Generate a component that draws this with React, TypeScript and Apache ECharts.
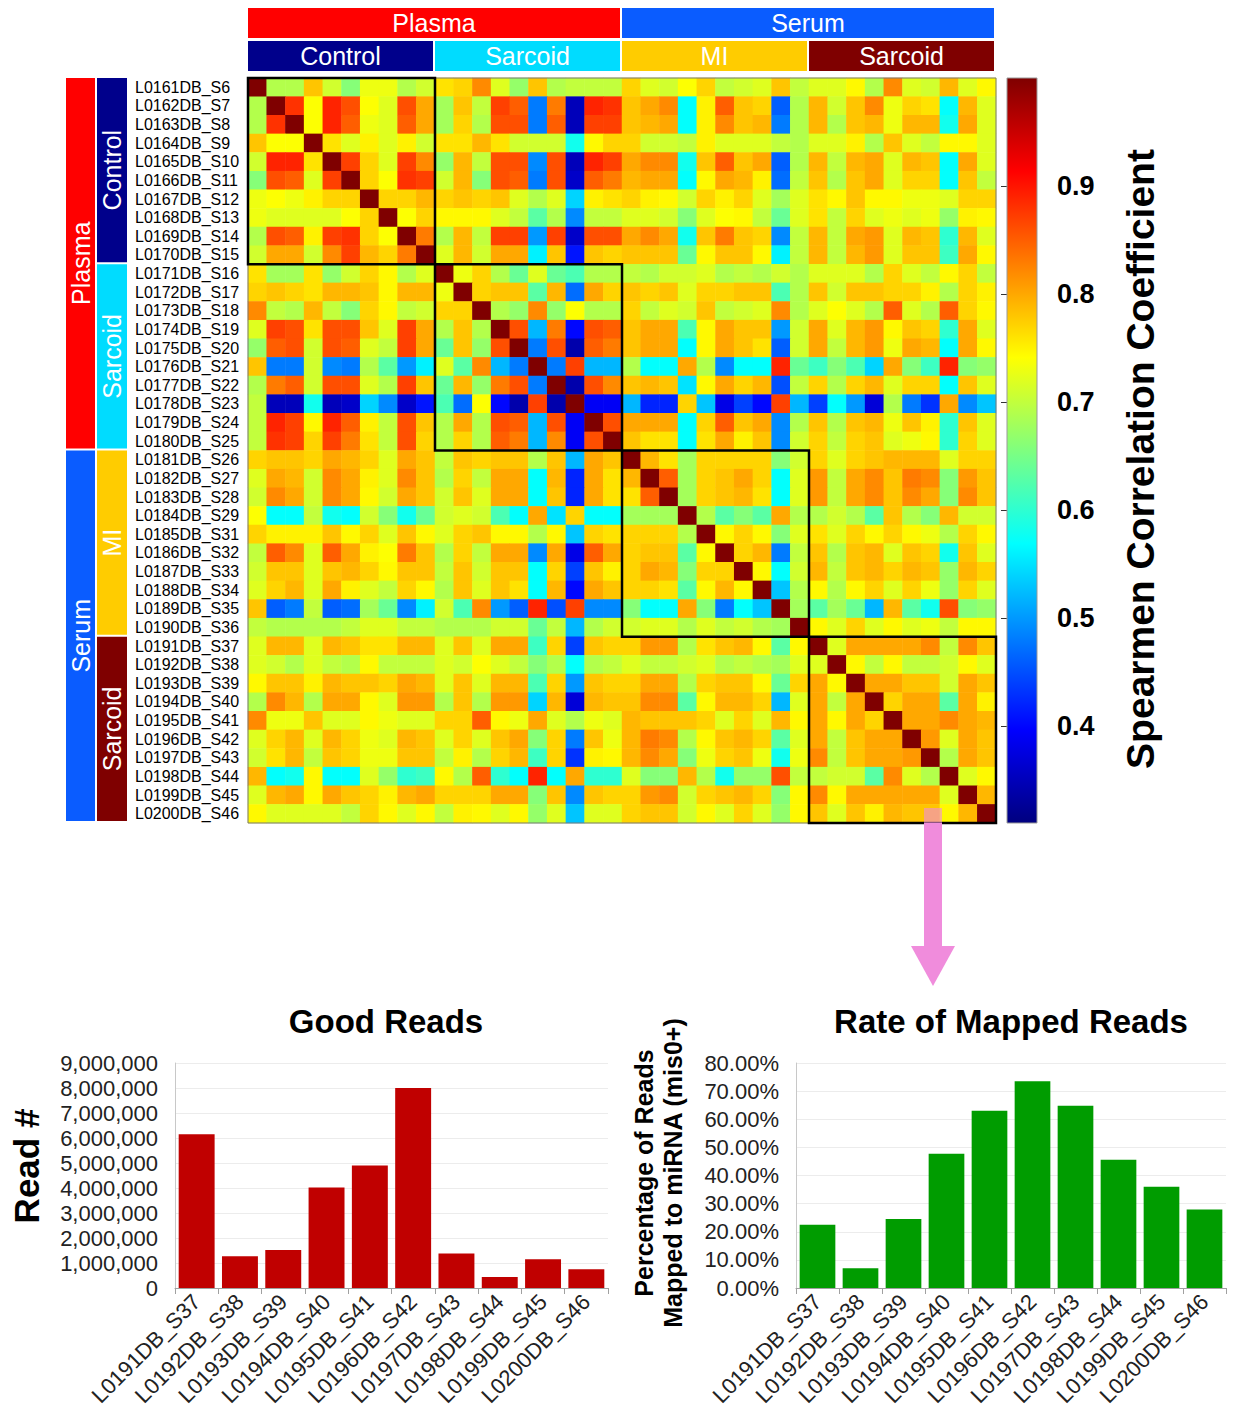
import React, { useEffect, useRef } from "react";
import * as echarts from "echarts";

// ---------- DATA ----------
const sampleLabels = [
  "L0161DB_S6","L0162DB_S7","L0163DB_S8","L0164DB_S9","L0165DB_S10","L0166DB_S11","L0167DB_S12","L0168DB_S13","L0169DB_S14","L0170DB_S15",
  "L0171DB_S16","L0172DB_S17","L0173DB_S18","L0174DB_S19","L0175DB_S20","L0176DB_S21","L0177DB_S22","L0178DB_S23","L0179DB_S24","L0180DB_S25",
  "L0181DB_S26","L0182DB_S27","L0183DB_S28","L0184DB_S29","L0185DB_S31","L0186DB_S32","L0187DB_S33","L0188DB_S34","L0189DB_S35","L0190DB_S36",
  "L0191DB_S37","L0192DB_S38","L0193DB_S39","L0194DB_S40","L0195DB_S41","L0196DB_S42","L0197DB_S43","L0198DB_S44","L0199DB_S45","L0200DB_S46",
];

// Upper triangle of the Spearman correlation matrix: row i holds columns i+1 .. 39
const corrUpper: number[][] = [
  [0.69,0.69,0.78,0.71,0.66,0.73,0.73,0.69,0.71,0.76,0.77,0.82, 0.72,0.67,0.78,0.69,0.70,0.70,0.70,0.77,0.72,0.71,0.74,0.77,0.70,0.71, 0.72,0.78,0.70,0.72,0.72,0.745,0.69,0.82,0.72,0.71,0.79,0.72,0.745],
  [0.88,0.74,0.89,0.86,0.74,0.72,0.86,0.80,0.68,0.78,0.70, 0.87,0.85,0.48,0.83,0.35,0.89,0.88,0.78,0.80,0.82,0.57,0.75,0.85,0.78, 0.77,0.46,0.69,0.79,0.71,0.78,0.82,0.73,0.77,0.76,0.57,0.79,0.72],
  [0.74,0.89,0.85,0.73,0.72,0.85,0.80,0.68,0.77,0.69, 0.86,0.86,0.48,0.85,0.35,0.87,0.87,0.78,0.79,0.80,0.57,0.75,0.82,0.78, 0.79,0.48,0.69,0.79,0.69,0.78,0.79,0.73,0.79,0.79,0.58,0.80,0.72],
  [0.76,0.72,0.75,0.72,0.75,0.71,0.76,0.76,0.79, 0.76,0.71,0.71,0.71,0.58,0.745,0.77,0.77,0.71,0.71,0.70,0.75,0.72,0.72, 0.72,0.70,0.69,0.72,0.72,0.75,0.69,0.78,0.72,0.70,0.745,0.745,0.72],
  [0.87,0.77,0.72,0.87,0.82,0.67,0.79,0.70, 0.86,0.86,0.49,0.86,0.35,0.89,0.87,0.80,0.82,0.82,0.58,0.78,0.85,0.78, 0.80,0.46,0.69,0.79,0.70,0.79,0.80,0.72,0.79,0.78,0.57,0.80,0.72],
  [0.77,0.74,0.88,0.87,0.71,0.79,0.66, 0.86,0.85,0.48,0.86,0.36,0.85,0.83,0.79,0.80,0.80,0.57,0.745,0.80,0.79, 0.75,0.47,0.70,0.78,0.69,0.78,0.80,0.72,0.77,0.77,0.57,0.78,0.70],
  [0.77,0.77,0.79,0.77,0.78,0.77, 0.78,0.72,0.69,0.72,0.54,0.75,0.76,0.77,0.75,0.745,0.71,0.77,0.75,0.77, 0.72,0.68,0.72,0.76,0.745,0.78,0.745,0.745,0.73,0.73,0.72,0.77,0.77],
  [0.74,0.77,0.745,0.745,0.745, 0.72,0.70,0.63,0.69,0.49,0.70,0.70,0.72,0.72,0.71,0.66,0.72,0.74,0.745, 0.70,0.64,0.72,0.76,0.70,0.77,0.72,0.73,0.72,0.73,0.67,0.75,0.745],
  [0.83,0.69,0.79,0.70, 0.87,0.87,0.50,0.87,0.36,0.86,0.86,0.80,0.82,0.80,0.58,0.78,0.83,0.78, 0.77,0.49,0.70,0.79,0.70,0.80,0.81,0.72,0.79,0.78,0.60,0.79,0.72],
  [0.72,0.79,0.71, 0.80,0.80,0.56,0.78,0.41,0.78,0.77,0.78,0.78,0.78,0.64,0.745,0.78,0.78, 0.745,0.56,0.70,0.79,0.70,0.79,0.81,0.72,0.78,0.78,0.61,0.80,0.745],
  [0.73,0.77, 0.69,0.64,0.72,0.64,0.62,0.69,0.69,0.70,0.69,0.71,0.71,0.72,0.69,0.70, 0.69,0.71,0.69,0.72,0.72,0.72,0.69,0.77,0.72,0.70,0.745,0.77,0.70],
  [0.77, 0.78,0.78,0.63,0.79,0.47,0.80,0.77,0.78,0.77,0.78,0.72,0.77,0.77,0.78, 0.78,0.62,0.69,0.78,0.71,0.78,0.78,0.77,0.77,0.75,0.69,0.77,0.75],
  [0.69,0.67,0.82,0.67,0.74,0.69,0.69,0.77,0.70,0.72,0.71,0.78,0.70,0.71, 0.72,0.82,0.69,0.72,0.74,0.72,0.69,0.85,0.72,0.69,0.85,0.77,0.745],
  [0.86,0.52,0.83,0.40,0.86,0.85,0.78,0.80,0.80,0.62,0.745,0.80,0.78, 0.78,0.50,0.71,0.80,0.72,0.79,0.81,0.745,0.78,0.77,0.60,0.80,0.72],
  [0.48,0.86,0.34,0.85,0.83,0.78,0.80,0.80,0.57,0.745,0.80,0.78, 0.76,0.46,0.71,0.80,0.70,0.79,0.81,0.73,0.80,0.79,0.57,0.80,0.745],
  [0.48,0.87,0.52,0.52,0.69,0.57,0.57,0.80,0.69,0.49,0.57, 0.57,0.89,0.64,0.61,0.66,0.62,0.54,0.80,0.66,0.61,0.89,0.66,0.67],
  [0.34,0.86,0.82,0.78,0.79,0.78,0.55,0.745,0.80,0.77, 0.79,0.45,0.70,0.77,0.69,0.77,0.79,0.72,0.77,0.77,0.57,0.78,0.72],
  [0.39,0.39,0.52,0.42,0.42,0.77,0.53,0.38,0.44, 0.40,0.87,0.52,0.44,0.57,0.50,0.37,0.69,0.48,0.43,0.80,0.49,0.53],
  [0.86,0.80,0.80,0.80,0.57,0.77,0.85,0.78, 0.80,0.49,0.69,0.78,0.69,0.78,0.79,0.73,0.78,0.75,0.60,0.78,0.72],
  [0.78,0.76,0.76,0.57,0.76,0.80,0.75, 0.78,0.49,0.71,0.77,0.70,0.77,0.78,0.72,0.73,0.745,0.60,0.77,0.72],
  [0.79,0.76,0.68,0.77,0.77,0.77, 0.77,0.66,0.71,0.77,0.72,0.77,0.78,0.79,0.79,0.79,0.72,0.77,0.77],
  [0.85,0.68,0.77,0.78,0.80, 0.77,0.57,0.72,0.81,0.70,0.80,0.82,0.78,0.83,0.82,0.66,0.81,0.78],
  [0.68,0.77,0.78,0.79, 0.76,0.57,0.72,0.81,0.70,0.80,0.82,0.78,0.82,0.80,0.66,0.82,0.78],
  [0.69,0.63,0.66, 0.63,0.80,0.69,0.69,0.71,0.69,0.63,0.78,0.69,0.66,0.79,0.71,0.71],
  [0.745,0.77, 0.745,0.66,0.72,0.76,0.72,0.77,0.745,0.77,0.745,0.73,0.69,0.77,0.745],
  [0.77, 0.79,0.48,0.70,0.78,0.69,0.78,0.79,0.72,0.78,0.77,0.58,0.78,0.72],
  [0.745,0.57,0.71,0.79,0.70,0.78,0.79,0.77,0.79,0.78,0.67,0.79,0.77],
  [0.53,0.69,0.745,0.69,0.745,0.77,0.72,0.77,0.73,0.67,0.77,0.72],
  [0.68,0.63,0.68,0.64,0.52,0.79,0.63,0.58,0.86,0.66,0.67],
  [0.745,0.72,0.77,0.72,0.745,0.72,0.73,0.70,0.745,0.745],
  [0.72,0.80,0.80,0.80,0.80,0.82,0.70,0.82,0.78],
  [0.745,0.70,0.745,0.70,0.70,0.71,0.745,0.72],
  [0.80,0.80,0.78,0.78,0.71,0.80,0.78],
  [0.77,0.80,0.80,0.63,0.80,0.75],
  [0.80,0.80,0.82,0.80,0.79],
  [0.81,0.72,0.80,0.78],
  [0.69,0.80,0.78],
  [0.72,0.745],
  [0.79],
];

const tissueGroups = ["Plasma", "Serum"];
const conditionGroups = ["Control", "Sarcoid", "MI", "Sarcoid"];
const colorbarTicks = [0.4, 0.5, 0.6, 0.7, 0.8, 0.9];
const corrMin = 0.31;
const corrMax = 1.0;

const barCategories = ["L0191DB_S37","L0192DB_S38","L0193DB_S39","L0194DB_S40","L0195DB_S41","L0196DB_S42","L0197DB_S43","L0198DB_S44","L0199DB_S45","L0200DB_S46"];
const goodReads = [6150000, 1270000, 1520000, 4020000, 4900000, 8000000, 1380000, 440000, 1150000, 750000];
const mappedRate = [22.5, 7.0, 24.5, 47.7, 63.0, 73.5, 64.8, 45.6, 36.0, 27.9];

// ---------- STYLE ----------
const FONT = '"Liberation Sans", Arial, Helvetica, sans-serif';
const jet = ["#00007f", "#0000ff", "#007fff", "#00ffff", "#7fff7f", "#ffff00", "#ff7f00", "#ff0000", "#7f0000"];
const tissueColors = ["#ff0000", "#0a5cff"];
const conditionColors = ["#00008b", "#00dcff", "#ffcc00", "#7f0000"];

const HM = { left: 248, top: 78, width: 748, height: 745 };

function txt(x: number, y: number, text: string, size: number, color: string, bold = false, rot = 0, z = 20) {
  return {
    type: "text",
    x,
    y,
    rotation: rot,
    z,
    silent: true,
    style: {
      text,
      fill: color,
      font: `${bold ? "bold " : ""}${size}px ${FONT}`,
      textAlign: "center",
      textVerticalAlign: "middle",
      align: "center",
      verticalAlign: "middle",
    },
  };
}

export default function App() {
  const ref = useRef<HTMLDivElement>(null);

  useEffect(() => {
    if (!ref.current) return;
    const chart = echarts.init(ref.current, null, { renderer: "svg" });
    const n = sampleLabels.length;

    // symmetric matrix from upper triangle
    const M: number[][] = [];
    for (let i = 0; i < n; i++) M.push(new Array(n).fill(1));
    for (let i = 0; i < n; i++) {
      const row = corrUpper[i] || [];
      for (let j = i + 1; j < n; j++) {
        const v = row[j - i - 1];
        if (v !== undefined) {
          M[i][j] = v;
          M[j][i] = v;
        }
      }
    }
    const heatData: number[][] = [];
    for (let i = 0; i < n; i++) for (let j = 0; j < n; j++) heatData.push([j, i, M[i][j]]);

    const cw = HM.width / n;
    const ch = HM.height / n;
    const graphic: any[] = [];

    // top header bars
    tissueGroups.forEach((g, k) => {
      const x = HM.left + k * 20 * cw;
      const w = 20 * cw - 2;
      graphic.push({ type: "rect", shape: { x, y: 8, width: w, height: 30 }, style: { fill: tissueColors[k] }, z: 10, silent: true });
      graphic.push(txt(x + w / 2, 23, g, 25, "#fff"));
    });
    conditionGroups.forEach((g, k) => {
      const x = HM.left + k * 10 * cw;
      const w = 10 * cw - 2;
      graphic.push({ type: "rect", shape: { x, y: 41, width: w, height: 30 }, style: { fill: conditionColors[k] }, z: 10, silent: true });
      graphic.push(txt(x + w / 2, 56, g, 25, "#fff"));
    });
    // left header bars
    tissueGroups.forEach((g, k) => {
      const y = HM.top + k * 20 * ch;
      const h = 20 * ch - 2;
      graphic.push({ type: "rect", shape: { x: 66, y, width: 29, height: h }, style: { fill: tissueColors[k] }, z: 10, silent: true });
      graphic.push(txt(81, y + h / 2, g, 25, "#fff", false, Math.PI / 2));
    });
    conditionGroups.forEach((g, k) => {
      const y = HM.top + k * 10 * ch;
      const h = 10 * ch - 2;
      graphic.push({ type: "rect", shape: { x: 97, y, width: 30, height: h }, style: { fill: conditionColors[k] }, z: 10, silent: true });
      graphic.push(txt(112, y + h / 2, g, 25, "#fff", false, Math.PI / 2));
    });
    // heatmap border
    graphic.push({ type: "rect", shape: { x: HM.left, y: HM.top, width: HM.width, height: HM.height }, style: { fill: "none", stroke: "#777", lineWidth: 1 }, z: 15, silent: true });
    // diagonal block boxes
    for (let k = 0; k < 4; k++) {
      graphic.push({
        type: "rect",
        shape: { x: HM.left + k * 10 * cw, y: HM.top + k * 10 * ch, width: 10 * cw, height: 10 * ch },
        style: { fill: "none", stroke: "#000", lineWidth: 2.5 },
        z: 16,
        silent: true,
      });
    }
    // colorbar gradient
    graphic.push({
      type: "rect",
      shape: { x: 1007, y: HM.top, width: 30, height: HM.height },
      style: {
        fill: {
          type: "linear", x: 0, y: 0, x2: 0, y2: 1,
          colorStops: jet.slice().reverse().map((c, i) => ({ offset: i / (jet.length - 1), color: c })),
        },
        stroke: "#999",
        lineWidth: 1,
      },
      z: 5,
      silent: true,
    });
    graphic.push(txt(1140, 459, "Spearmen Correlation Coefficient", 39, "#000", true, Math.PI / 2));
    // pink arrow
    graphic.push({ type: "rect", shape: { x: 924, y: 808, width: 18, height: 15 }, style: { fill: "#f08cdc", opacity: 0.6 }, z: 17, silent: true });
    graphic.push({ type: "rect", shape: { x: 924, y: 823, width: 18, height: 124 }, style: { fill: "#f08cdc" }, z: 17, silent: true });
    graphic.push({ type: "polygon", shape: { points: [[911, 946], [955, 946], [933, 986]] }, style: { fill: "#f08cdc" }, z: 17, silent: true });
    // bar chart titles and names
    graphic.push(txt(386, 1021, "Good Reads", 33, "#000", true));
    graphic.push(txt(1011, 1021, "Rate of Mapped Reads", 33, "#000", true));
    graphic.push(txt(26, 1166, "Read #", 35, "#000", true, Math.PI / 2));
    graphic.push(txt(644, 1173, "Percentage of Reads", 25, "#000", true, Math.PI / 2));
    graphic.push(txt(673, 1173, "Mapped to miRNA (mis0+)", 25, "#000", true, Math.PI / 2));

    const barLabelStyle = { fontFamily: FONT, fontSize: 22, color: "#222" };

    chart.setOption({
      animation: false,
      backgroundColor: "#fff",
      textStyle: { fontFamily: FONT },
      grid: [
        { left: HM.left, top: HM.top, width: HM.width, height: HM.height, containLabel: false },
        { left: 1007, top: HM.top, width: 30, height: HM.height, containLabel: false },
        { left: 175, top: 1063, width: 433, height: 225, containLabel: false },
        { left: 796, top: 1063, width: 430, height: 225, containLabel: false },
      ],
      xAxis: [
        { type: "category", gridIndex: 0, data: sampleLabels, show: false },
        { type: "value", gridIndex: 1, show: false, min: 0, max: 1 },
        {
          type: "category", gridIndex: 2, data: barCategories,
          axisLine: { lineStyle: { color: "#a0a0a0" } },
          axisTick: { show: true, length: 6, lineStyle: { color: "#a0a0a0" } },
          axisLabel: { ...barLabelStyle, rotate: 45, interval: 0, margin: 10 },
        },
        {
          type: "category", gridIndex: 3, data: barCategories,
          axisLine: { lineStyle: { color: "#a0a0a0" } },
          axisTick: { show: true, length: 6, lineStyle: { color: "#a0a0a0" } },
          axisLabel: { ...barLabelStyle, rotate: 45, interval: 0, margin: 10 },
        },
      ],
      yAxis: [
        {
          type: "category", gridIndex: 0, data: sampleLabels, inverse: true,
          axisLine: { show: false }, axisTick: { show: false },
          axisLabel: { interval: 0, align: "left", margin: 113, fontFamily: FONT, fontSize: 16, color: "#000" },
        },
        {
          type: "value", gridIndex: 1, min: corrMin, max: corrMax, position: "right",
          axisLine: { show: false },
          splitLine: { show: false },
          axisTick: { show: true, inside: true, length: 6, customValues: colorbarTicks, lineStyle: { color: "#333" } },
          axisLabel: {
            customValues: colorbarTicks, margin: 20, fontFamily: FONT, fontSize: 27, fontWeight: "bold", color: "#000",
            formatter: (v: number) => v.toFixed(1),
          },
        },
        {
          type: "value", gridIndex: 2, min: 0, max: 9000000, interval: 1000000,
          axisLine: { show: true, lineStyle: { color: "#c8c8c8" } },
          axisTick: { show: false },
          splitLine: { lineStyle: { color: "#ececec" } },
          axisLabel: { ...barLabelStyle, margin: 17, formatter: (v: number) => v.toLocaleString("en-US") },
        },
        {
          type: "value", gridIndex: 3, min: 0, max: 80, interval: 10,
          axisLine: { show: true, lineStyle: { color: "#c8c8c8" } },
          axisTick: { show: false },
          splitLine: { lineStyle: { color: "#ececec" } },
          axisLabel: { ...barLabelStyle, margin: 17, formatter: (v: number) => v.toFixed(2) + "%" },
        },
      ],
      visualMap: {
        type: "continuous", show: false, seriesIndex: 0, dimension: 2,
        min: corrMin, max: corrMax, inRange: { color: jet },
      },
      series: [
        {
          type: "heatmap", xAxisIndex: 0, yAxisIndex: 0, data: heatData,
          itemStyle: { borderWidth: 0 }, emphasis: { disabled: true }, progressive: 0,
        },
        {
          type: "bar", xAxisIndex: 2, yAxisIndex: 2, data: goodReads,
          itemStyle: { color: "#c00000" }, barCategoryGap: "17%",
        },
        {
          type: "bar", xAxisIndex: 3, yAxisIndex: 3, data: mappedRate,
          itemStyle: { color: "#009c00" }, barCategoryGap: "17%",
        },
      ],
      graphic,
    });

    return () => chart.dispose();
  }, []);

  return <div ref={ref} style={{ position: "absolute", left: 0, top: 0, width: 1234, height: 1418, background: "#fff" }} />;
}
